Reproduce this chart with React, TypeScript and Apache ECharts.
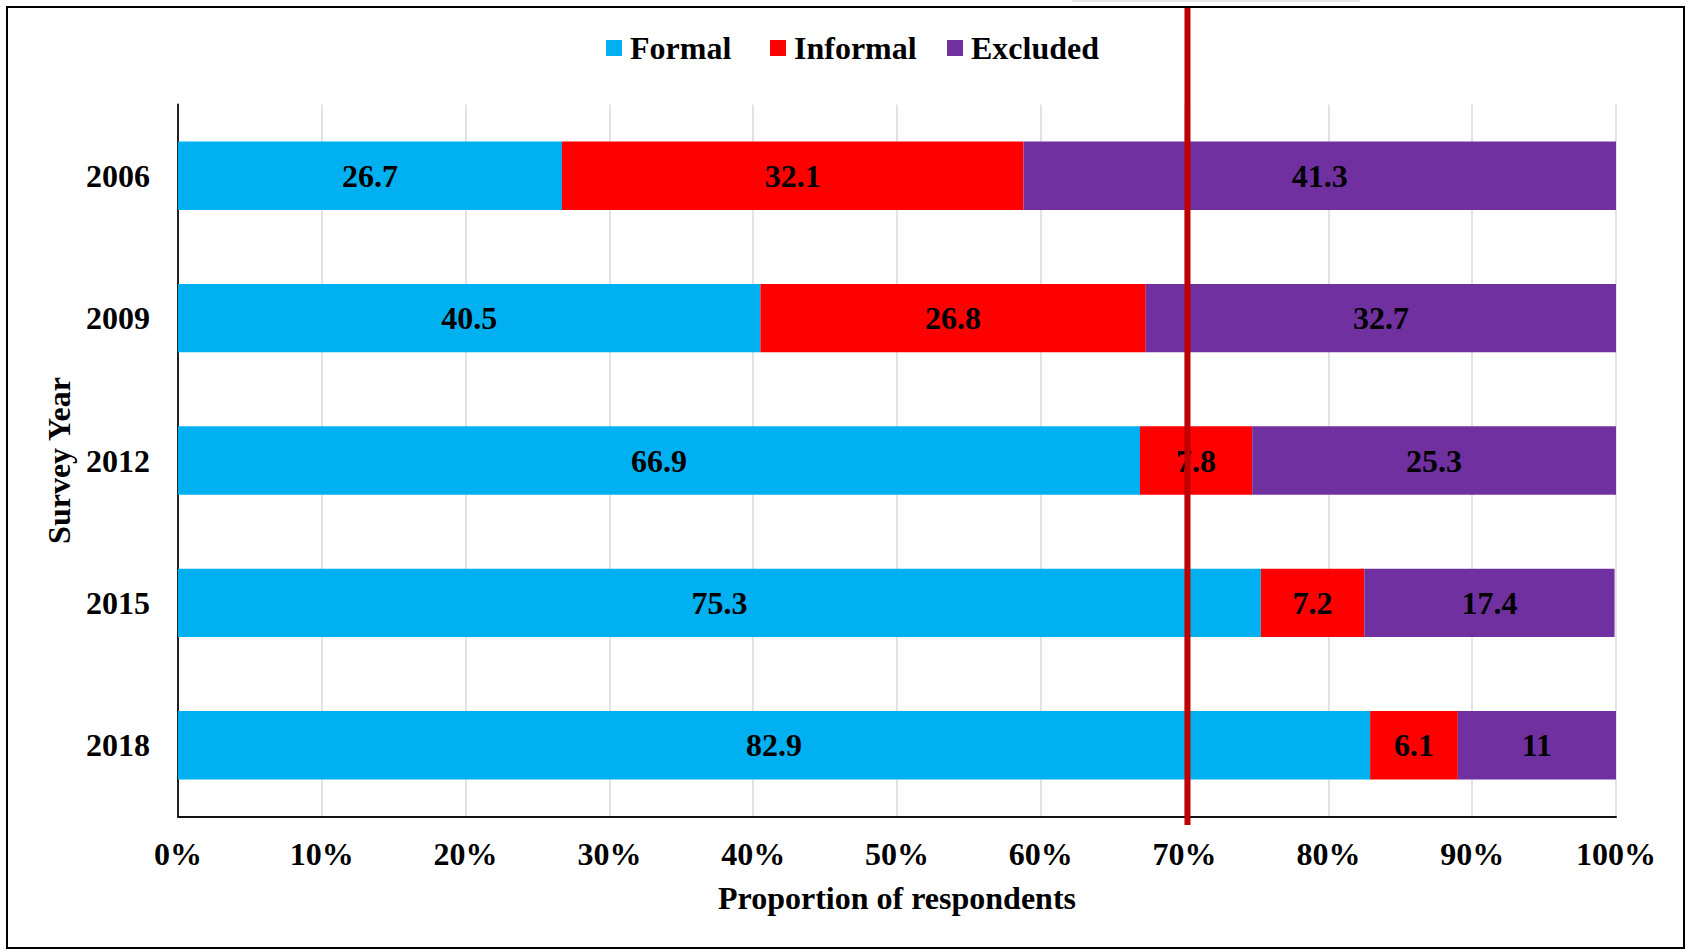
import React, { useEffect, useRef } from "react";
import * as echarts from "echarts";

const YEARS = ["2006", "2009", "2012", "2015", "2018"];
const FORMAL = [26.7, 40.5, 66.9, 75.3, 82.9];
const INFORMAL = [32.1, 26.8, 7.8, 7.2, 6.1];
const EXCLUDED = [41.3, 32.7, 25.3, 17.4, 11];
const SERIES_NAMES = ["Formal", "Informal", "Excluded"];
const SERIES_COLORS = ["#00B0F0", "#FF0000", "#7030A0"];
const X_TICKS_MAX = 100;
const X_TICK_STEP = 10;
const REFERENCE_LINE_AT = 70.2;

const FONT = "'Times New Roman', 'Liberation Serif', serif";

export default function App() {
  const ref = useRef<HTMLDivElement>(null);

  useEffect(() => {
    if (!ref.current) return;
    const chart = echarts.init(ref.current, undefined, { renderer: "svg" });
    const values = [FORMAL, INFORMAL, EXCLUDED];
    const legendLefts = [601, 765, 942];

    const option: any = {
      animation: false,
      backgroundColor: "#ffffff",
      textStyle: { fontFamily: FONT },
      legend: SERIES_NAMES.map((n, i) => ({
        data: [n],
        left: legendLefts[i],
        top: 27,
        itemWidth: 16,
        itemHeight: 16,
        icon: "rect",
        itemGap: 0,
        textStyle: {
          fontFamily: FONT,
          fontSize: 32,
          fontWeight: "bold",
          color: "#000",
          padding: [0, 0, 0, 3],
        },
      })),
      grid: { left: 178, right: 74, top: 104.5, bottom: 135.5, containLabel: false },
      xAxis: {
        type: "value",
        min: 0,
        max: X_TICKS_MAX,
        interval: X_TICK_STEP,
        name: "Proportion of respondents",
        nameLocation: "middle",
        nameGap: 65,
        nameTextStyle: { fontFamily: FONT, fontSize: 32, fontWeight: "bold", color: "#000" },
        axisLine: { show: true, onZero: false, lineStyle: { color: "#111", width: 2 } },
        axisTick: { show: false },
        axisLabel: {
          formatter: "{value}%",
          fontFamily: FONT,
          fontSize: 32,
          fontWeight: "bold",
          color: "#000",
          margin: 21,
        },
        splitLine: { show: true, lineStyle: { color: "#D9D9D9", width: 1.5 } },
      },
      yAxis: {
        type: "category",
        data: YEARS,
        inverse: true,
        name: "Survey Year",
        nameLocation: "middle",
        nameGap: 102,
        nameRotate: 90,
        nameTextStyle: { fontFamily: FONT, fontSize: 32, fontWeight: "bold", color: "#000" },
        axisLine: { show: true, lineStyle: { color: "#222", width: 2 } },
        axisTick: { show: false },
        axisLabel: { fontFamily: FONT, fontSize: 32, fontWeight: "bold", color: "#000", margin: 28 },
        splitLine: { show: false },
      },
      series: SERIES_NAMES.map((n, i) => ({
        name: n,
        type: "bar",
        stack: "total",
        data: values[i],
        barCategoryGap: "52%",
        itemStyle: { color: SERIES_COLORS[i] },
        label: {
          show: true,
          position: "inside",
          fontFamily: FONT,
          fontSize: 32,
          fontWeight: "bold",
          color: "#000",
          formatter: (p: any) => String(p.value),
        },
      })),
    };
    chart.setOption(option);

    const lx = chart.convertToPixel({ xAxisIndex: 0 }, REFERENCE_LINE_AT) as number;
    chart.setOption({
      graphic: [
        {
          type: "rect",
          shape: { x: 1072, y: 0, width: 288, height: 2 },
          style: { fill: "#E6E6E6" },
          z: 100,
        },
        {
          type: "rect",
          shape: { x: 7, y: 7, width: 1677, height: 941 },
          style: { fill: "none", stroke: "#000", lineWidth: 2 },
          z: 100,
        },
        {
          type: "line",
          shape: { x1: lx, y1: 8, x2: lx, y2: 825 },
          style: { stroke: "#C00000", lineWidth: 6 },
          z: 100,
        },
      ],
    });

    return () => chart.dispose();
  }, []);

  return (
    <div
      ref={ref}
      style={{ position: "fixed", left: 0, top: 0, width: 1690, height: 952 }}
    />
  );
}
